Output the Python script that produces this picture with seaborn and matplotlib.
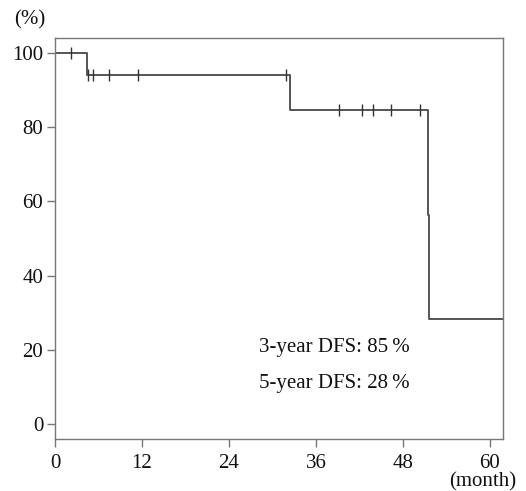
import numpy as np
import pandas as pd
import matplotlib
matplotlib.use("Agg")
import matplotlib.pyplot as plt
import seaborn as sns

# Kaplan-Meier step curve (months, % disease-free)
step_month = [0, 4.4, 32.4, 51.5, 51.6, 61.8]
step_surv = [100, 94.1, 84.6, 56.3, 28.2, 28.2]

# censored observations
cens_month = [2.25, 4.5, 5.2, 7.5, 11.5, 31.8, 39.2, 42.3, 43.8, 46.3, 50.3]
cens_surv = [100, 94.1, 94.1, 94.1, 94.1, 94.1, 84.6, 84.6, 84.6, 84.6, 84.6]

x_ticks = [0, 12, 24, 36, 48, 60]
y_ticks = [0, 20, 40, 60, 80, 100]

notes = ["3-year DFS: 85\u2009%", "5-year DFS: 28\u2009%"]

sns.set_style("ticks")
plt.rcParams["font.family"] = ["Liberation Serif", "DejaVu Serif"]

curve = pd.DataFrame({"month": step_month, "surv": step_surv})
cens = pd.DataFrame({"month": cens_month, "surv": cens_surv})

fig = plt.figure(figsize=(5.26, 4.91), dpi=100)
ax = fig.add_axes([0.1046, 0.1059, 0.9563 - 0.1046, 0.9226 - 0.1059])

line_col = "#555555"
sns.lineplot(data=curve, x="month", y="surv", drawstyle="steps-post",
             color=line_col, linewidth=1.4, ax=ax)
sns.scatterplot(data=cens, x="month", y="surv", marker="|", s=70,
                color="#333333", linewidth=1.0, ax=ax, zorder=3)

ax.set_xlim(0, 61.8)
ax.set_ylim(-4.04, 104.0)
ax.set_xticks(x_ticks)
ax.set_yticks(y_ticks)
ax.set_xlabel("")
ax.set_ylabel("")
for sp in ax.spines.values():
    sp.set_color("#777777")
    sp.set_linewidth(1.0)
fs = 15
ax.tick_params(axis="both", direction="out", length=5.5, width=1.0,
               color="#777777", labelsize=fs, labelcolor="#111111", pad=3)
ax.tick_params(axis="x", pad=5.5)

fig.text(14 / 526, 1 - 20 / 491, "(%)", fontsize=fs, color="#111111",
         va="center", ha="left")
fig.text(516 / 526, 1 - 482 / 491, "(month)", fontsize=fs, color="#111111",
         va="center", ha="right")

ax.text(28.2, 20.6, notes[0], fontsize=fs, color="#111111", va="center")
ax.text(28.2, 10.9, notes[1], fontsize=fs, color="#111111", va="center")

fig.savefig("out.png", dpi=100)
